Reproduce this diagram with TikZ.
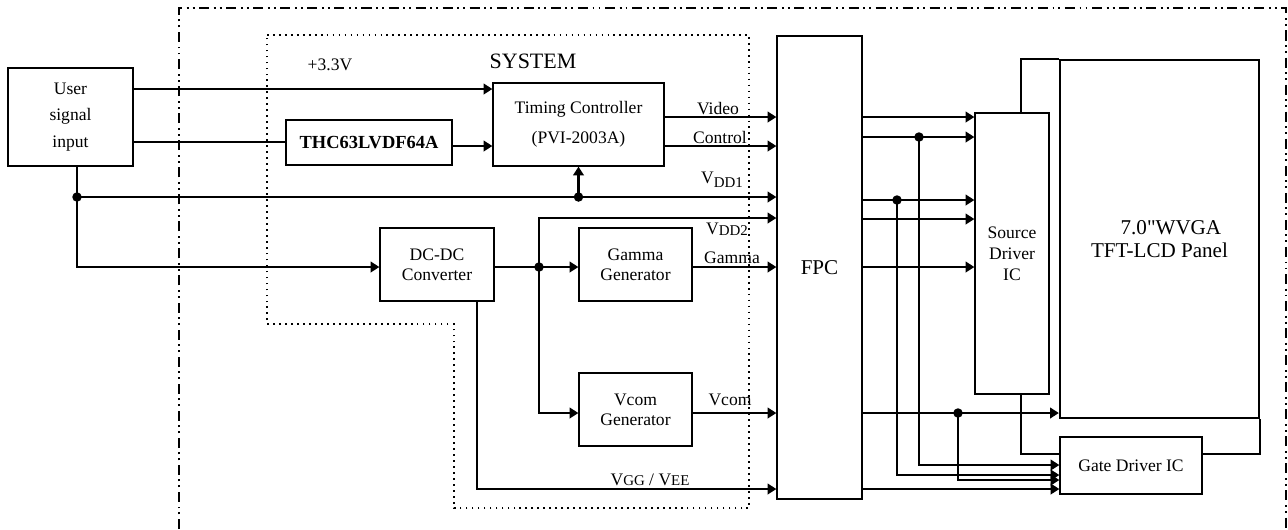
\documentclass[tikz,border=0pt]{standalone}
\usepackage{fontspec}
\setmainfont{Liberation Serif}
\usetikzlibrary{arrows.meta}

\newdimen\px \px=0.02cm
\newcommand{\vsub}[2]{V\raisebox{#1}{\fontsize{8.5}{9}\selectfont #2}}

\tikzset{
  blk/.style={draw,rectangle,line width=0.7pt,inner sep=0pt,align=center,
    font=\fontsize{10}{11.5}\selectfont},
  sig/.style={line width=1.3pt,-{Triangle[length=5pt,width=6pt]}},
  wire/.style={line width=1.3pt},
  lbl/.style={inner sep=0pt,font=\fontsize{10}{12}\selectfont},
  frame/.style={line width=1.3pt,dash pattern=on 5.7pt off 2.6pt on 1.1pt off 2.3pt on 1.1pt off 2.6pt},
  sysbox/.style={line width=0.9pt,dash pattern=on 1pt off 2.4pt},
}

\begin{document}
\begin{tikzpicture}[x=0.02cm,y=-0.02cm]

  \useasboundingbox (0,0) rectangle (1288,529);

  \node (user) at (70.5,117) [blk,minimum width=125\px,minimum height=98\px,
    font=\fontsize{10}{15.3}\selectfont]{User\\signal\\input};
  \node (thc) at (369,142.5) [blk,minimum width=166\px,minimum height=45\px,
    font=\fontsize{10.5}{12}\selectfont\bfseries]{THC63LVDF64A};
  \node (tcon) at (578.5,124.5) [blk,minimum width=171\px,minimum height=83\px]
    {\raisebox{-3pt}{Timing Controller}\\[7pt](PVI-2003A)};
  \node (dcdc) at (437,264.5) [blk,minimum width=114\px,minimum height=73\px]{DC-DC\\Converter};
  \node (gamma) at (635.5,264.5) [blk,minimum width=113\px,minimum height=73\px]{Gamma\\Generator};
  \node (vcom) at (635.5,409.5) [blk,minimum width=113\px,minimum height=73\px]{Vcom\\Generator};
  \node (fpc) at (819.5,267.5) [blk,minimum width=85\px,minimum height=463\px,
    font=\fontsize{12}{14}\selectfont]{FPC};
  \node (src) at (1012,253.5) [blk,minimum width=74\px,minimum height=281\px,
    font=\fontsize{10}{12}\selectfont]{Source\\Driver\\IC};
  \node (panel) at (1159.5,239) [blk,line width=1.3pt,minimum width=199\px,minimum height=358\px,
    font=\fontsize{12}{13}\selectfont]{\hspace*{13pt}7.0\textquotedbl WVGA\\TFT-LCD Panel};
  \node (gate) at (1131,465.5) [blk,minimum width=142\px,minimum height=57\px]{Gate Driver IC};

  \coordinate (jin) at (77,197);
  \coordinate (jt) at (tcon.south |- jin);
  \coordinate (jg) at (539,267);
  \coordinate (j1) at (919,137);
  \coordinate (j2) at (897,200);
  \coordinate (j3) at (958,413);

  \draw[frame] (179,529) |- (1286,8) -- (1286,529);
  \draw[sysbox] (267,35) -| (749,508) -| (454,324) -| (267,35) -- cycle;

  \draw[sig] (user.east |- 0,89) -- (tcon.west |- 0,89);
  \draw[wire] (user.east |- 0,142) -- (thc.west |- 0,142);
  \draw[sig] (thc.east |- 0,146) -- (tcon.west |- 0,146);
  \draw[sig] (jin |- user.south) |- (dcdc.west |- jg);
  \draw[sig] (jin) -- (fpc.west |- jin);
  \draw[sig] (jt) -- (tcon.south);
  \draw[sig] (tcon.east |- 0,117) -- (fpc.west |- 0,117);
  \draw[sig] (tcon.east |- 0,146) -- (fpc.west |- 0,146);

  \draw[wire] (dcdc.east |- jg) -- (jg);
  \draw[sig] (jg) -- (gamma.west |- jg);
  \draw[sig] (jg) |- (fpc.west |- 0,218);
  \draw[sig] (jg) |- (vcom.west |- 0,413);
  \draw[sig] (gamma.east |- jg) -- (fpc.west |- jg);
  \draw[sig] (vcom.east |- 0,413) -- (fpc.west |- 0,413);
  \draw[sig] (477,0 |- dcdc.south) |- (fpc.west |- 0,489);

  \draw[sig] (fpc.east |- 0,117) -- (src.west |- 0,117);
  \draw[sig] (fpc.east |- 0,137) -- (src.west |- 0,137);
  \draw[sig] (fpc.east |- 0,200) -- (src.west |- 0,200);
  \draw[sig] (fpc.east |- 0,219) -- (src.west |- 0,219);
  \draw[sig] (fpc.east |- 0,267) -- (src.west |- 0,267);
  \draw[sig] (fpc.east |- 0,413) -- (panel.west |- 0,413);
  \draw[sig] (fpc.east |- 0,489) -- (gate.west |- 0,489);
  \draw[sig] (j1) |- (gate.west |- 0,465);
  \draw[sig] (j2) |- (gate.west |- 0,475);
  \draw[sig] (j3) |- (gate.west |- 0,480);

  \draw[wire] (1021,0 |- src.north) |- (panel.north west);
  \draw[wire] (1021,0 |- src.south) |- (gate.west |- 0,454);
  \draw[wire] (gate.east |- 0,454) -| (panel.south east);

  \foreach \j in {jin,jt,jg,j1,j2,j3}
    \fill (\j) circle (2.7pt);

  \node (l33) at (330,65) [lbl]{+3.3V};
  \node (lsys) at (533,61) [lbl,font=\fontsize{12.5}{14}\selectfont]{SYSTEM};
  \node (lvideo) at (718,109) [lbl]{Video};
  \node (lctrl) at (720,137) [lbl]{Control};
  \node (lvdd1) at (722,180) [lbl]{\vsub{-2.5pt}{DD1}};
  \node (lvdd2) at (727,229) [lbl]{\vsub{-0.5pt}{DD2}};
  \node (lgamma) at (732,258) [lbl]{Gamma};
  \node (lvcom) at (730,400) [lbl]{Vcom};
  \node (lvgg) at (650,480) [lbl]{\vsub{0pt}{GG} / \vsub{0pt}{EE}};

\end{tikzpicture}
\end{document}
